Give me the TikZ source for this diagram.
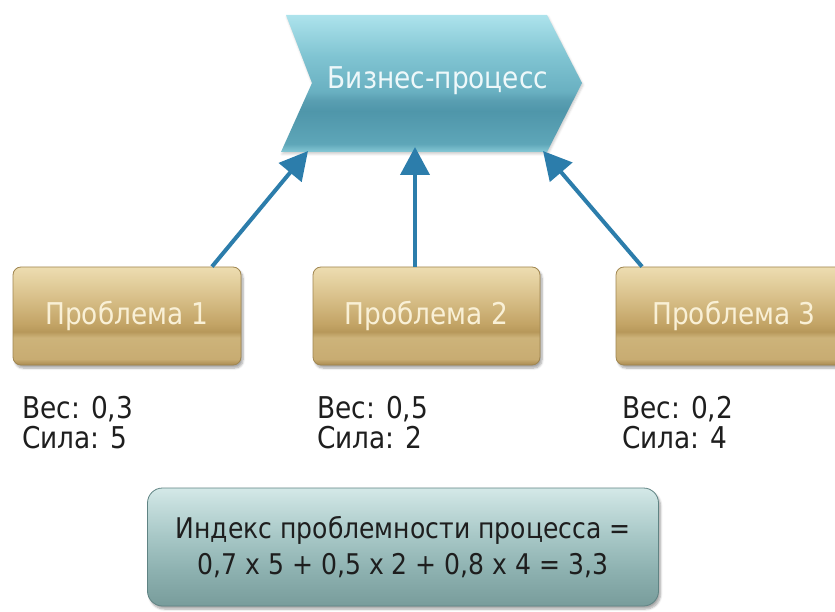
\documentclass[tikz,border=0pt]{standalone}
\usepackage{fontspec}
\setmainfont[FakeStretch=0.88]{DejaVu Sans}
\usetikzlibrary{arrows.meta,shadows.blur}

\definecolor{arrowblue}{HTML}{2C7DAB}
\definecolor{goldedge}{HTML}{A08650}
\definecolor{goldtext}{HTML}{F9F0D6}
\definecolor{chevtext}{HTML}{EEF8FA}
\definecolor{tealedge}{HTML}{5F8383}
\definecolor{labeltext}{HTML}{1E1E1E}

% gold box colours, bottom to top
\definecolor{gA}{HTML}{A98A50}
\definecolor{gB}{HTML}{C8AC72}
\definecolor{gC}{HTML}{CDB37A}
\definecolor{gD}{HTML}{B7985A}
\definecolor{gE}{HTML}{C3A466}
\definecolor{gF}{HTML}{D9C18B}
\definecolor{gG}{HTML}{EDDDB1}
% chevron colours, bottom to top
\definecolor{cA}{HTML}{86C9D6}
\definecolor{cB}{HTML}{5EA6B8}
\definecolor{cC}{HTML}{4F96AA}
\definecolor{cD}{HTML}{5A9FB2}
\definecolor{cE}{HTML}{69B0C1}
\definecolor{cF}{HTML}{80C4D2}
\definecolor{cG}{HTML}{ADE3EC}
% index box colours, bottom to top
\definecolor{tA}{HTML}{789C9B}
\definecolor{tB}{HTML}{8DB1B0}
\definecolor{tC}{HTML}{A8C8C7}
\definecolor{tD}{HTML}{C8E0DF}
\definecolor{tE}{HTML}{D4E9E8}

% vertical shadings: stops between 25bp (bottom) and 75bp (top)
\pgfdeclareverticalshading{goldshade}{100bp}{
  color(0bp)=(gA); color(25bp)=(gA);
  color(28bp)=(gB); color(39bp)=(gC);
  color(42bp)=(gD); color(46bp)=(gE);
  color(60bp)=(gF); color(75bp)=(gG);
  color(100bp)=(gG)}
\pgfdeclareverticalshading{chevronshade}{100bp}{
  color(0bp)=(cA); color(25bp)=(cA);
  color(28bp)=(cB); color(40bp)=(cC);
  color(44bp)=(cD); color(47bp)=(cE);
  color(60bp)=(cF); color(75bp)=(cG);
  color(100bp)=(cG)}
\pgfdeclareverticalshading{tealshade}{100bp}{
  color(0bp)=(tA); color(25bp)=(tA);
  color(40bp)=(tB); color(55bp)=(tC);
  color(70bp)=(tD); color(75bp)=(tE);
  color(100bp)=(tE)}

\tikzset{
  problembox/.style={draw=goldedge, line width=0.8pt, rounded corners=8pt,
    shading=goldshade, minimum height=98pt, text=goldtext,
    font=\fontsize{30}{34}\selectfont, inner sep=0pt,
    blur shadow={shadow xshift=2pt, shadow yshift=-3pt, shadow blur steps=6, shadow opacity=35}},
  weightlabel/.style={anchor=north west, align=left, text=labeltext,
    font=\fontsize{30}{30}\selectfont, inner sep=0pt},
  linkarrow/.style={draw=arrowblue, line width=4pt,
    -{Triangle[length=28pt,width=29pt]}},
}

\begin{document}
\begin{tikzpicture}[x=1pt,y=-1pt]
  \useasboundingbox (0,0) rectangle (835,612);

  % process chevron
  \path[shading=chevronshade, blur shadow={shadow xshift=1pt, shadow yshift=-2pt, shadow opacity=20}]
    (286,15) -- (547,15) -- (582,83) -- (547,152) -- (281,152) -- (312,83) -- cycle;
  \node[text=chevtext, font=\fontsize{30}{34}\selectfont, inner sep=0pt] (bp) at (438,81) {Бизнес-процесс};
  \coordinate (tip1) at (308,151);
  \coordinate (tip2) at (415,147);
  \coordinate (tip3) at (543,151);

  % problems
  \node[problembox, minimum width=228pt] (p1) at (127,316) {Проблема 1};
  \node[problembox, minimum width=227pt] (p2) at (426.5,316) {Проблема 2};
  \node[problembox, minimum width=236pt] (p3) at (734,316) {Проблема 3};

  % connectors
  \draw[linkarrow] (p1.north -| 212,0) -- (tip1);
  \draw[linkarrow] (p2.north -| 415,0) -- (tip2);
  \draw[linkarrow] (p3.north -| 642,0) -- (tip3);

  % weights and strengths
  \node[weightlabel] (w1) at (22,396) {Вес: 0,3\\Сила: 5};
  \node[weightlabel] (w2) at (317,396) {Вес: 0,5\\Сила: 2};
  \node[weightlabel] (w3) at (622,396) {Вес: 0,2\\Сила: 4};

  % process index
  \node[draw=tealedge, line width=0.8pt, rounded corners=15pt, shading=tealshade,
        minimum width=511pt, minimum height=118pt, align=center, text=labeltext,
        font=\fontsize{28.5}{36}\selectfont, inner sep=0pt,
        blur shadow={shadow xshift=2pt, shadow yshift=-3pt, shadow blur steps=6, shadow opacity=35}]
    (idx) at (403,547) {Индекс проблемности процесса =\\0,7 x 5 + 0,5 x 2 + 0,8 x 4 = 3,3};
\end{tikzpicture}
\end{document}
